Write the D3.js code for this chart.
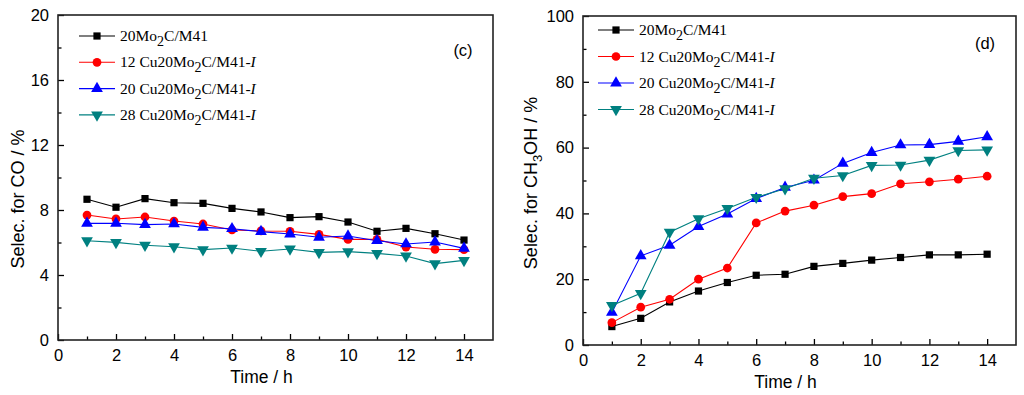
<!DOCTYPE html>
<html><head><meta charset="utf-8">
<script src="https://cdn.jsdelivr.net/npm/d3@7"></script>
<style>body{margin:0;background:#fff}svg{display:block}</style>
</head><body>
<svg id="c" width="1024" height="395"></svg>
<script>
const hours = [1,2,3,4,5,6,7,8,9,10,11,12,13,14];
const seriesNames = ["20Mo2C/M41","12 Cu20Mo2C/M41-I","20 Cu20Mo2C/M41-I","28 Cu20Mo2C/M41-I"];
const coBlack = [8.66,8.17,8.70,8.45,8.41,8.10,7.88,7.53,7.59,7.26,6.69,6.87,6.54,6.15];
const coRed   = [7.69,7.45,7.57,7.32,7.14,6.77,6.71,6.69,6.50,6.19,6.19,5.72,5.58,5.56];
const coBlue  = [7.18,7.18,7.10,7.14,6.93,6.85,6.67,6.52,6.32,6.40,6.11,5.91,6.03,5.64];
const coTeal  = [6.11,6.01,5.83,5.74,5.56,5.66,5.46,5.60,5.39,5.44,5.33,5.17,4.70,4.90];
const meBlack = [5.6,8.1,13.1,16.4,19.0,21.2,21.5,23.9,24.8,25.8,26.6,27.4,27.4,27.6];
const meRed   = [6.8,11.5,13.9,20.0,23.4,37.1,40.7,42.5,45.1,46.0,49.0,49.6,50.4,51.3];
const meBlue  = [9.9,27.1,30.3,36.0,39.8,44.5,47.9,50.1,55.2,58.5,60.8,60.9,61.9,63.3];
const meTeal  = [12.0,15.7,34.3,38.4,41.5,44.9,47.5,50.7,51.5,54.6,54.7,56.2,59.1,59.3];
const xTicks = [0,2,4,6,8,10,12,14];
const coTicks = [0,4,8,12,16,20];
const meTicks = [0,20,40,60,80,100];

const colors = ["#000000","#ff0000","#0000ff","#008080"];
const symbols = [d3.symbolSquare, d3.symbolCircle, d3.symbolTriangle, d3.symbolTriangle];
const symSizes = [52, 60, 60, 60];
const rot = [0,0,0,180];

const svg = d3.select("#c");

function legendText(sel, name){
  const m = name.match(/^(.*Mo)2(C\/M41-?)(I?)$/);
  sel.append("tspan").text(m[1]);
  sel.append("tspan").attr("dy", 5).attr("font-size", 14).text("2");
  sel.append("tspan").attr("dy", -5).text(m[2]);
  if (m[3]) sel.append("tspan").attr("font-style","italic").text(m[3]);
}

function panel(cfg){
  const g = svg.append("g");
  const x = d3.scaleLinear().domain([0,15]).range([cfg.left, cfg.right]);
  const y = d3.scaleLinear().domain([0,cfg.ymax]).range([cfg.bottom, cfg.top]);

  const xAxis = d3.axisBottom(x).tickValues(xTicks).tickSize(-6).tickPadding(9).tickFormat(d3.format("d"));
  const gx = g.append("g").attr("transform",`translate(0,${cfg.bottom})`).call(xAxis);
  gx.select(".domain").remove();
  gx.selectAll("text").attr("font-family","Liberation Sans, Arial, sans-serif").attr("font-size",16.5).attr("fill","#000");
  gx.selectAll("line").attr("stroke","#000").attr("stroke-width",1.3);
  const gxm = g.append("g").attr("transform",`translate(0,${cfg.bottom})`)
    .call(d3.axisBottom(x).tickValues([1,3,5,7,9,11,13]).tickSize(-3.5).tickFormat(""));
  gxm.select(".domain").remove();
  gxm.selectAll("line").attr("stroke","#000").attr("stroke-width",1.3);

  const yAxis = d3.axisLeft(y).tickValues(cfg.yTicks).tickSize(-6).tickPadding(9);
  const gy = g.append("g").attr("transform",`translate(${cfg.left},0)`).call(yAxis);
  gy.select(".domain").remove();
  gy.selectAll("text").attr("font-family","Liberation Sans, Arial, sans-serif").attr("font-size",16.5).attr("fill","#000");
  gy.selectAll("line").attr("stroke","#000").attr("stroke-width",1.3);
  const step = cfg.yTicks[1]-cfg.yTicks[0];
  const minor = cfg.yTicks.slice(0,-1).map(v=>v+step/2);
  const gym = g.append("g").attr("transform",`translate(${cfg.left},0)`)
    .call(d3.axisLeft(y).tickValues(minor).tickSize(-3.5).tickFormat(""));
  gym.select(".domain").remove();
  gym.selectAll("line").attr("stroke","#000").attr("stroke-width",1.3);

  g.append("rect").attr("x",cfg.left).attr("y",cfg.top)
    .attr("width",cfg.right-cfg.left).attr("height",cfg.bottom-cfg.top)
    .attr("fill","none").attr("stroke","#222").attr("stroke-width",1.6);

  const line = d3.line().x((d,i)=>x(hours[i])).y(d=>y(d));
  cfg.data.forEach((arr,k)=>{
    g.append("path").datum(arr).attr("d",line).attr("fill","none")
      .attr("stroke",colors[k]).attr("stroke-width",1.1);
  });
  cfg.data.forEach((arr,k)=>{
    const sym = d3.symbol().type(symbols[k]).size(symSizes[k]);
    g.selectAll(null).data(arr).enter().append("path")
      .attr("d",sym)
      .attr("transform",(d,i)=>`translate(${x(hours[i])},${y(d)}) rotate(${rot[k]})`)
      .attr("fill",colors[k]);
  });

  seriesNames.forEach((name,k)=>{
    const ly = cfg.legY + k*cfg.legStep;
    g.append("line").attr("x1",cfg.legX).attr("x2",cfg.legX+36).attr("y1",ly).attr("y2",ly)
      .attr("stroke",colors[k]).attr("stroke-width",1.1);
    g.append("path").attr("d",d3.symbol().type(symbols[k]).size(symSizes[k]))
      .attr("transform",`translate(${cfg.legX+18},${ly}) rotate(${rot[k]})`).attr("fill",colors[k]);
    const t = g.append("text").attr("x",cfg.legX+41).attr("y",ly+5)
      .attr("font-family","Liberation Serif, Times New Roman, serif").attr("font-size",15.5).attr("fill","#000");
    legendText(t,name);
  });

  g.append("text").attr("x",cfg.labX).attr("y",cfg.labY).attr("text-anchor","middle")
    .attr("font-family","Liberation Sans, Arial, sans-serif").attr("font-size",16.5).text(cfg.label);

  g.append("text").attr("x",(cfg.left+cfg.right)/2 - 14).attr("y",cfg.bottom+43).attr("text-anchor","middle")
    .attr("font-family","Liberation Sans, Arial, sans-serif").attr("font-size",17.5).text("Time / h");

  const yt = g.append("text").attr("transform",`translate(${cfg.ytX},${cfg.ytY}) rotate(-90)`)
    .attr("text-anchor","middle")
    .attr("font-family","Liberation Sans, Arial, sans-serif").attr("font-size",18);
  cfg.yTitle(yt);
}

panel({left:58,right:493,top:15,bottom:340,ymax:20,yTicks:coTicks,
  data:[coBlack,coRed,coBlue,coTeal],legX:79,legY:36,legStep:26.3,
  label:"(c)",labX:463,labY:56,ytX:24,ytY:199,
  yTitle:t=>t.text("Selec. for CO / %")});

panel({left:583,right:1016,top:16,bottom:345,ymax:100,yTicks:meTicks,
  data:[meBlack,meRed,meBlue,meTeal],legX:598,legY:30,legStep:26.5,
  label:"(d)",labX:985,labY:49,ytX:537,ytY:183,
  yTitle:t=>{t.append("tspan").text("Selec. for CH");
    t.append("tspan").attr("dy",5).attr("font-size",13).text("3");
    t.append("tspan").attr("dy",-5).text("OH / %");}});
</script>
</body></html>
